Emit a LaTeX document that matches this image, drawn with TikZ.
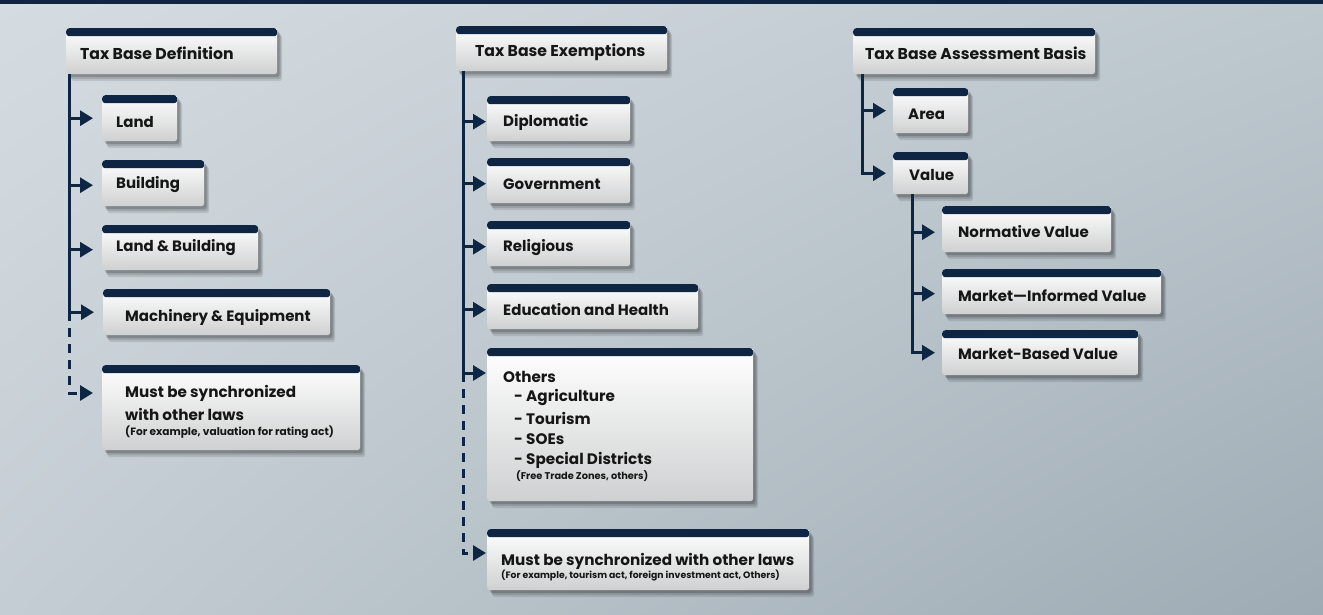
\documentclass[tikz,border=0pt]{standalone}
\usepackage{fontspec}
\setmainfont{Poppins}
\usetikzlibrary{arrows.meta,shadows,shadings,calc}
\definecolor{navy}{HTML}{0E2544}
\definecolor{bodybot}{HTML}{CFD0D1}
\definecolor{ink}{HTML}{161616}
\definecolor{bgul}{RGB}{213,220,225}
\definecolor{bgur}{RGB}{190,200,207}
\definecolor{bgll}{RGB}{196,205,211}
\definecolor{bglr}{RGB}{158,171,180}
\begin{document}
\begin{tikzpicture}[x=1pt,y=-1pt,
  box/.style={rectangle, rounded corners=3pt, inner sep=0pt, anchor=north west,
    top color=white, bottom color=bodybot,
    drop shadow={shadow xshift=5pt, shadow yshift=-7pt, opacity=0.10, fill=black},
    drop shadow={shadow xshift=4pt, shadow yshift=-5pt, opacity=0.12, fill=black},
    drop shadow={shadow xshift=2.5pt, shadow yshift=-3pt, opacity=0.18, fill=black},
    path picture={\fill[navy] (path picture bounding box.north west) rectangle ([yshift=-8pt]path picture bounding box.north east);}},
  head/.style={anchor=west, inner sep=0pt, text=ink, font=\bfseries\fontsize{15.7}{18}\selectfont},
  lbl/.style={anchor=west, inner sep=0pt, text=ink, font=\bfseries\fontsize{15}{17}\selectfont},
  big/.style={anchor=west, inner sep=0pt, text=ink, font=\bfseries\fontsize{15.2}{18}\selectfont},
  small/.style={anchor=west, inner sep=0pt, text=ink, font=\bfseries\fontsize{10.6}{12}\selectfont},
  smalltwo/.style={anchor=west, inner sep=0pt, text=ink, font=\bfseries\fontsize{9.3}{11}\selectfont},
  tiny/.style={anchor=west, inner sep=0pt, text=ink, font=\bfseries\fontsize{9.8}{11}\selectfont},
  conn/.style={draw=navy, line width=3pt, -{Triangle[length=13pt,width=15pt]}},
  dconn/.style={conn, dash pattern=on 9pt off 7pt}
]
\useasboundingbox (0,0) rectangle (1323,614);
\shade[upper left=bgul, upper right=bgur, lower left=bgll, lower right=bglr]
  (0,0) rectangle (1323,614);
\fill[navy] (0,0) rectangle (1323,4);

% ---------- column 1 ----------
\node[box, minimum width=211pt, minimum height=46pt] (def) at (66,28) {};
\node[head] at (80,53) {Tax Base Definition};
\node[box, minimum width=75pt, minimum height=46pt] (land) at (102,95) {};
\node[lbl] at (116,122) {Land};
\node[box, minimum width=102pt, minimum height=46pt] (bld) at (102,160) {};
\node[lbl] at (116,185) {Building};
\node[box, minimum width=156pt, minimum height=45pt] (lb) at (102,225) {};
\node[lbl] at (116,248) {Land \& Building};
\node[box, minimum width=227pt, minimum height=46pt] (mach) at (103,289) {};
\node[lbl] at (125,317) {Machinery \& Equipment};
\node[box, minimum width=258pt, minimum height=85pt] (must1) at (102,365) {};
\node[big] at (125,393) {Must be synchronized};
\node[big] at (125,414) {with other laws};
\node[small] at (125,432) {(For example, valuation for rating act)};

\coordinate (t1) at ([xshift=3pt]def.south west);
\draw[conn] (t1) |- ([xshift=-9pt]land.west);
\draw[conn] (t1) |- ([xshift=-9pt,yshift=-2pt]bld.west);
\draw[conn] (t1) |- ([xshift=-9pt,yshift=-2pt]lb.west);
\draw[conn] (t1) |- ([xshift=-9pt]mach.west);
\draw[dconn] (t1 |- mach.west) |- ([xshift=-9pt,yshift=-28pt]must1.north west);

% ---------- column 2 ----------
\node[box, minimum width=211pt, minimum height=45pt] (exm) at (456,26) {};
\node[head] at (475,52) {Tax Base Exemptions};
\node[box, minimum width=143pt, minimum height=45pt] (dip) at (487,96) {};
\node[lbl] at (503,122) {Diplomatic};
\node[box, minimum width=143pt, minimum height=45pt] (gov) at (487,158) {};
\node[lbl] at (503,184) {Government};
\node[box, minimum width=143pt, minimum height=45pt] (rel) at (487,221) {};
\node[lbl] at (503,248) {Religious};
\node[box, minimum width=211pt, minimum height=45pt] (edu) at (487,284) {};
\node[lbl] at (503,310) {Education and Health};
\node[box, minimum width=266pt, minimum height=153pt] (oth) at (487,348) {};
\node[big] at (503,377) {Others};
\node[big] at (514,397) {- Agriculture};
\node[big] at (514,418) {- Tourism};
\node[big] at (514,439) {- SOEs};
\node[big] at (514,460) {- Special Districts};
\node[tiny] at (516,476) {(Free Trade Zones, others)};
\node[box, minimum width=322pt, minimum height=61pt] (must2) at (487,529) {};
\node[big] at (501,561) {Must be synchronized with other laws};
\node[smalltwo] at (501,576) {(For example, tourism act, foreign investment act, Others)};

\coordinate (t2) at ([xshift=7pt]exm.south west);
\draw[conn] (t2) |- ([xshift=-1pt,yshift=-3pt]dip.west);
\draw[conn] (t2) |- ([xshift=-1pt,yshift=-3pt]gov.west);
\draw[conn] (t2) |- ([xshift=-1pt,yshift=-3pt]rel.west);
\draw[conn] (t2) |- ([xshift=-1pt,yshift=-3pt]edu.west);
\draw[conn] (t2) |- ([xshift=-1pt,yshift=-25pt]oth.north west);
\draw[dconn] ([yshift=-25pt]t2 |- oth.north west) |- ([xshift=-1pt,yshift=-24pt]must2.north west);

% ---------- column 3 ----------
\node[box, minimum width=242pt, minimum height=46pt] (abs) at (853,28) {};
\node[head] at (865,53) {Tax Base Assessment Basis};
\node[box, minimum width=75pt, minimum height=45pt] (area) at (893,88) {};
\node[lbl] at (908,114) {Area};
\node[box, minimum width=75pt, minimum height=42pt] (val) at (893,152) {};
\node[lbl] at (909,175) {Value};
\node[box, minimum width=169pt, minimum height=46pt] (norm) at (942,206) {};
\node[lbl] at (958,232) {Normative Value};
\node[box, minimum width=219pt, minimum height=45pt] (mi) at (942,269) {};
\node[lbl] at (958,296) {Market—Informed Value};
\node[box, minimum width=196pt, minimum height=45pt] (mb) at (942,330) {};
\node[lbl] at (958,354) {Market-Based Value};

\coordinate (t3) at ([xshift=9pt]abs.south west);
\draw[conn] (t3) |- ([xshift=-7pt]area.west);
\draw[conn] (t3) |- ([xshift=-7pt]val.west);
\coordinate (t4) at ([xshift=19pt]val.south west);
\draw[conn] (t4) |- ([xshift=-7pt,yshift=-3pt]norm.west);
\draw[conn] (t4) |- ([xshift=-7pt,yshift=-2pt]mi.west);
\draw[conn] (t4) |- ([xshift=-7pt]mb.west);
\end{tikzpicture}
\end{document}
